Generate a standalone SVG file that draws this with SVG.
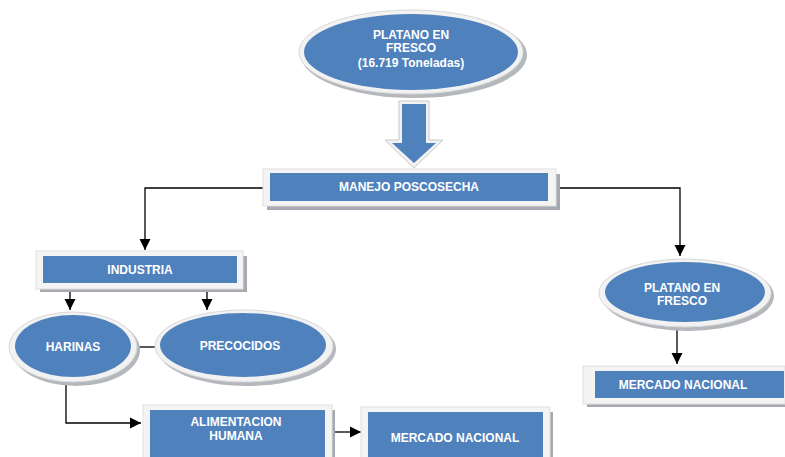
<svg xmlns="http://www.w3.org/2000/svg" width="785" height="457" viewBox="0 0 785 457">
<defs>
<style>
.blue{fill:#4f81bd}
.frame{fill:#f4f4f4;stroke:#e0e0e0;stroke-width:1}
.shadow{fill:#a6aab0}
.eshadow{fill:#b4b8bd}
.ering{fill:#f2f2f2;stroke:#d8d8d8;stroke-width:1}
.t{font-family:"Liberation Sans",Arial,sans-serif;font-weight:bold;font-size:12px;fill:#ffffff;text-anchor:middle}
.c{fill:none;stroke:#000;stroke-width:1.3}
</style>
<marker id="ah" viewBox="0 0 10 10" refX="10" refY="5" markerWidth="11" markerHeight="12" markerUnits="userSpaceOnUse" orient="auto">
<path d="M0,0 L10,5 L0,10 z" fill="#000"/>
</marker>
</defs>
<rect width="785" height="457" fill="#ffffff"/>

<g id="connectors">
<polyline class="c" points="264,188 145,188 145,250" marker-end="url(#ah)"/>
<polyline class="c" points="556,188 680,188 680,256" marker-end="url(#ah)"/>
<line class="c" x1="70" y1="290" x2="70" y2="310" marker-end="url(#ah)"/>
<line class="c" x1="207" y1="290" x2="207" y2="310" marker-end="url(#ah)"/>
<line class="c" x1="137" y1="347" x2="157" y2="347"/>
<polyline class="c" points="66,384 66,423 141,423" marker-end="url(#ah)"/>
<line class="c" x1="334" y1="432" x2="361" y2="432" marker-end="url(#ah)"/>
<line class="c" x1="677" y1="327" x2="677" y2="364" marker-end="url(#ah)"/>
</g>

<g id="platano-top">
<ellipse class="eshadow" cx="414" cy="55" rx="113" ry="43"/>
<ellipse class="ering" cx="411" cy="52" rx="112" ry="42"/>
<ellipse class="blue" cx="411" cy="52" rx="107" ry="38"/>
<text class="t" x="411" y="39">PLATANO EN</text>
<text class="t" x="411" y="52">FRESCO</text>
<text class="t" x="411" y="67">(16.719 Toneladas)</text>
</g>

<g id="block-arrow">
<path d="M399,101 L429,101 L429,140 L443,140 L414,168 L385,140 L399,140 z" fill="#f2f2f2" stroke="#c8c8c8" stroke-width="1"/>
<path d="M402,104 L426,104 L426,143 L436,143 L414,163 L392,143 L402,143 z" class="blue"/>
</g>

<g id="manejo">
<rect class="shadow" x="267" y="174" width="293" height="36"/>
<rect class="frame" x="263" y="169" width="293" height="37"/>
<rect class="blue" x="270" y="173" width="278" height="28"/>
<text class="t" x="409" y="191">MANEJO POSCOSECHA</text>
</g>

<g id="industria">
<rect class="shadow" x="40" y="256" width="207" height="36"/>
<rect class="frame" x="36" y="251" width="207" height="38"/>
<rect class="blue" x="43" y="256" width="194" height="27"/>
<text class="t" x="140" y="274">INDUSTRIA</text>
</g>

<g id="harinas">
<ellipse class="eshadow" cx="76" cy="350" rx="64" ry="36"/>
<ellipse class="ering" cx="73" cy="347" rx="64" ry="35"/>
<ellipse class="blue" cx="73" cy="346" rx="58" ry="31"/>
<text class="t" x="73" y="351">HARINAS</text>
</g>

<g id="precocidos">
<ellipse class="eshadow" cx="247" cy="349" rx="89" ry="37"/>
<ellipse class="ering" cx="244" cy="346" rx="89" ry="36"/>
<ellipse class="blue" cx="243" cy="345" rx="83" ry="32"/>
<text class="t" x="240" y="350">PRECOCIDOS</text>
</g>

<g id="alimentacion">
<rect class="shadow" x="147" y="410" width="188" height="50"/>
<rect class="frame" x="143" y="405" width="189" height="55"/>
<rect class="blue" x="150" y="410" width="175" height="47"/>
<text class="t" x="236" y="426">ALIMENTACION</text>
<text class="t" x="236" y="440">HUMANA</text>
</g>

<g id="mercado-1">
<rect class="shadow" x="365" y="412" width="188" height="48"/>
<rect class="frame" x="361" y="407" width="189" height="53"/>
<rect class="blue" x="368" y="412" width="175" height="45"/>
<text class="t" x="455" y="442">MERCADO NACIONAL</text>
</g>

<g id="platano-right">
<ellipse class="eshadow" cx="688" cy="296" rx="86" ry="35"/>
<ellipse class="ering" cx="685" cy="293" rx="86" ry="34"/>
<ellipse class="blue" cx="685" cy="292" rx="80" ry="30"/>
<text class="t" x="682" y="292">PLATANO EN</text>
<text class="t" x="682" y="305">FRESCO</text>
</g>

<g id="mercado-2">
<rect class="shadow" x="587" y="371" width="200" height="36"/>
<rect class="frame" x="583" y="366" width="202" height="38"/>
<rect class="blue" x="595" y="371" width="189" height="27"/>
<text class="t" x="683" y="389">MERCADO NACIONAL</text>
</g>
</svg>
